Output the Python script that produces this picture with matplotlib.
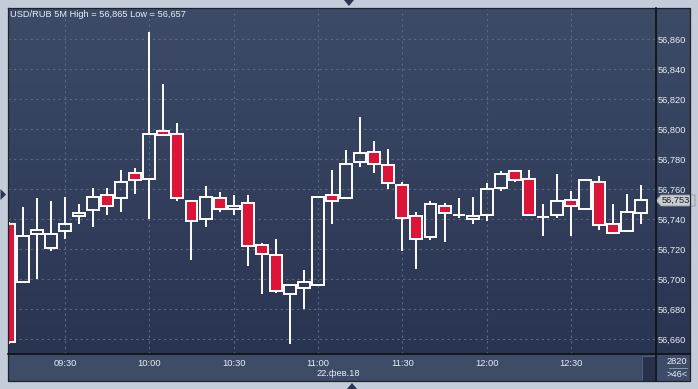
import numpy as np
import matplotlib
matplotlib.use("Agg")
import matplotlib.pyplot as plt
from matplotlib.patches import Rectangle, Polygon
from matplotlib.colors import to_rgb

# --- data: USD/RUB 5M candles, 22.02.18 ---
times = ["09:10", "09:15", "09:20", "09:25", "09:30", "09:35", "09:40", "09:45",
         "09:50", "09:55", "10:00", "10:05", "10:10", "10:15", "10:20", "10:25",
         "10:30", "10:35", "10:40", "10:45", "10:50", "10:55", "11:00", "11:05",
         "11:10", "11:15", "11:20", "11:25", "11:30", "11:35", "11:40", "11:45",
         "11:50", "11:55", "12:00", "12:05", "12:10", "12:15", "12:20", "12:25",
         "12:30", "12:35", "12:40", "12:45", "12:50", "12:55"]
opens = [56.737, 56.698, 56.730, 56.721, 56.732, 56.742, 56.746, 56.756,
         56.754, 56.771, 56.767, 56.799, 56.797, 56.752, 56.740, 56.754,
         56.747, 56.751, 56.723, 56.716, 56.690, 56.694, 56.696, 56.756,
         56.754, 56.778, 56.785, 56.776, 56.763, 56.742, 56.728, 56.749,
         56.743, 56.7405, 56.743, 56.761, 56.772, 56.767, 56.7415, 56.743,
         56.753, 56.747, 56.765, 56.737, 56.732, 56.744]
highs = [56.738, 56.748, 56.754, 56.752, 56.755, 56.750, 56.761, 56.761,
         56.773, 56.774, 56.865, 56.830, 56.804, 56.753, 56.762, 56.758,
         56.756, 56.756, 56.724, 56.727, 56.696, 56.706, 56.755, 56.773,
         56.786, 56.808, 56.792, 56.787, 56.765, 56.745, 56.752, 56.751,
         56.754, 56.755, 56.764, 56.772, 56.772, 56.773, 56.750, 56.770,
         56.759, 56.767, 56.769, 56.750, 56.757, 56.763]
lows = [56.657, 56.698, 56.700, 56.719, 56.727, 56.737, 56.735, 56.743,
        56.745, 56.757, 56.740, 56.796, 56.752, 56.713, 56.735, 56.745,
        56.743, 56.709, 56.690, 56.691, 56.657, 56.680, 56.696, 56.737,
        56.754, 56.775, 56.771, 56.760, 56.719, 56.707, 56.726, 56.725,
        56.741, 56.737, 56.739, 56.759, 56.765, 56.743, 56.729, 56.741,
        56.729, 56.747, 56.733, 56.731, 56.732, 56.737]
closes = [56.658, 56.729, 56.733, 56.730, 56.737, 56.744, 56.755, 56.749,
          56.765, 56.766, 56.797, 56.796, 56.754, 56.739, 56.755, 56.747,
          56.749, 56.722, 56.717, 56.692, 56.696, 56.698, 56.755, 56.752,
          56.777, 56.784, 56.777, 56.764, 56.741, 56.727, 56.750, 56.744,
          56.743, 56.742, 56.760, 56.770, 56.766, 56.743, 56.7415, 56.752,
          56.749, 56.766, 56.736, 56.731, 56.745, 56.753]
y_ticks = [56.660, 56.680, 56.700, 56.720, 56.740, 56.760, 56.780, 56.800,
           56.820, 56.840, 56.860]
title = "USD/RUB 5M High = 56,865 Low = 56,657"
date_label = "22.фев.18"
last_price = "56,753"

W, H = 698, 389
FONT = "Liberation Sans"
TXT = "#e9edf3"
RED = "#dc1438"

fig = plt.figure(figsize=(W / 100, H / 100), dpi=100)
fig.patch.set_facecolor("#c3cdd9")

def fx(px):
    return px / W

def fy(py):
    return 1 - py / H

# background layer in pixel coordinates
bg = fig.add_axes([0, 0, 1, 1], zorder=0)
bg.set_xlim(0, W)
bg.set_ylim(H, 0)
bg.axis("off")
top_c, bot_c = np.array(to_rgb("#3d4b67")), np.array(to_rgb("#293451"))
t = np.linspace(0, 1, 256)[:, None]
grad = top_c[None, None, :] * (1 - t[..., None]) + bot_c[None, None, :] * t[..., None]
grad = np.repeat(grad, 2, axis=1)
bg.imshow(grad, extent=(8, 690, 354, 8), aspect="auto", interpolation="bilinear")
bg.add_patch(Rectangle((8, 354), 682, 27, facecolor="#3e4c68", edgecolor="none"))
bg.add_patch(Rectangle((642, 356), 13, 25, facecolor="#27324a", edgecolor="#56627a", lw=0.6))

# main candle axes
x0, x1, y0, y1 = 8.3, 655.7, 8.3, 354
ax = fig.add_axes([fx(x0), fy(y1), fx(x1 - x0), (y1 - y0) / H], zorder=1)
ax.patch.set_alpha(0)

x = np.arange(len(times))
o, h, l, c = map(np.array, (opens, highs, lows, closes))
bw = 0.85
for xi, oi, hi, li, ci in zip(x, o, h, l, c):
    top, bot = max(oi, ci), min(oi, ci)
    ax.vlines(xi, top, hi, color="white", lw=1.4, zorder=3)
    ax.vlines(xi, li, bot, color="white", lw=1.4, zorder=3)
    if abs(ci - oi) < 1e-6:
        ax.hlines(oi, xi - bw / 2, xi + bw / 2, color="white", lw=1.4, zorder=3)
    else:
        fc = RED if ci < oi else "none"
        ax.add_patch(Rectangle((xi - bw / 2, bot), bw, top - bot, facecolor=fc,
                               edgecolor="white", lw=1.4, zorder=4))

ax.set_xlim(-0.03, 46.02)
ax.set_ylim(56.6503, 56.8808)

xt = [i for i, s in enumerate(times) if s.endswith(":30") or s.endswith(":00")]
ax.set_xticks(xt)
ax.set_xticklabels([times[i] for i in xt], fontsize=6.7, family=FONT, color=TXT)
ax.set_yticks(y_ticks)
ax.set_yticklabels([f"{v:.3f}".replace(".", ",") for v in y_ticks],
                   fontsize=6.7, family=FONT, color=TXT)
ax.yaxis.tick_right()
ax.tick_params(axis="both", length=0)
ax.tick_params(axis="x", pad=3.5)
ax.tick_params(axis="y", pad=1.5)
ax.grid(True, color="#5b6985", lw=0.8, linestyle=(0, (2, 3)))
for s in ax.spines.values():
    s.set_visible(False)

ax.text(0.003, 0.981, title, transform=ax.transAxes, fontsize=6.7, family=FONT,
        color=TXT, ha="left", va="center", zorder=6)

# overlay: borders, price tag, footer texts
ov = fig.add_axes([0, 0, 1, 1], zorder=2)
ov.set_xlim(0, W)
ov.set_ylim(H, 0)
ov.axis("off")
ov.patch.set_alpha(0)
ov.plot([8, 690, 690, 8, 8], [8, 8, 381, 381, 8], color="#1c2230", lw=0.9)
ov.plot([655.7, 655.7], [8, 381], color="#0d1016", lw=1.2)
ov.plot([8, 690], [354, 354], color="#0d1016", lw=1.2)

ov.add_patch(Polygon([(656, 200.5), (661, 195), (695, 195), (695, 206), (661, 206)],
                     closed=True, facecolor="#c9cdd2", edgecolor="#8f96a0", lw=0.6))
ov.text(662, 200.8, last_price, fontsize=6.7, family=FONT, color="#1a1d22",
        ha="left", va="center")

ov.text(338, 373, date_label, fontsize=6.7, family=FONT, color=TXT,
        ha="center", va="center")
ov.text(677, 361.5, "2820", fontsize=6.7, family=FONT, color=TXT,
        ha="center", va="center")
ov.plot([669, 687], [367.5, 367.5], color="#8995a8", lw=0.7)
ov.text(677, 374.5, ">46<", fontsize=6.7, family=FONT, color=TXT,
        ha="center", va="center")

arrow_c = "#2a3550"
ov.add_patch(Polygon([(344, 0), (354, 0), (349, 6)], closed=True, facecolor=arrow_c))
ov.add_patch(Polygon([(347, 389), (357, 389), (352, 383)], closed=True, facecolor=arrow_c))
ov.add_patch(Polygon([(0.5, 189), (6, 194.5), (0.5, 200)], closed=True, facecolor=arrow_c))

fig.savefig("out.png", dpi=100, facecolor=fig.get_facecolor())
